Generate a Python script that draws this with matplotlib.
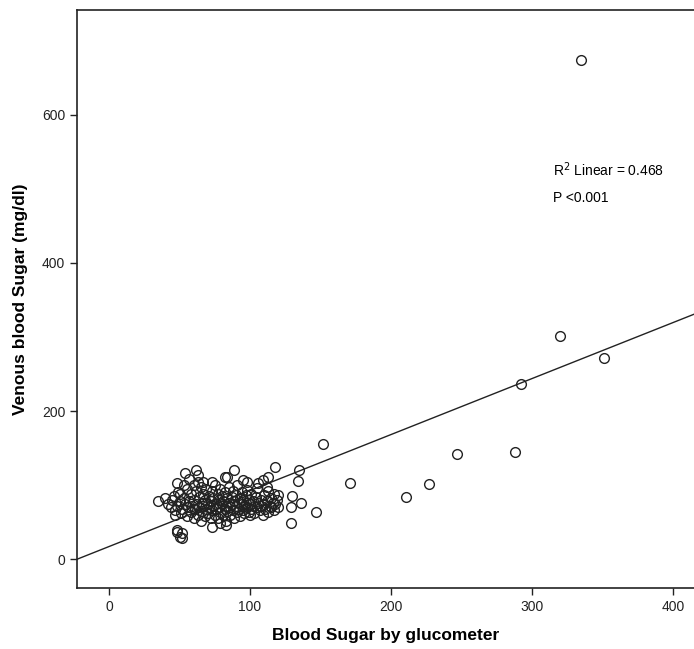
import matplotlib.pyplot as plt

plt.rcParams['font.family'] = ['Liberation Sans', 'DejaVu Sans']

# scattered points
edge_x = [35, 40, 45, 48, 50, 52, 52, 48, 54, 62, 63, 84, 73, 79, 83, 89, 95, 98, 106, 109, 113,
          118, 82, 73, 67, 48, 120, 134, 135, 130, 136, 129, 129, 147, 152, 171, 211, 227, 247,
          288, 292, 320, 351, 335]
edge_y = [78, 82, 80, 39, 30, 28, 35, 103, 116, 120, 113, 111, 43, 49, 46, 120, 107, 104, 103, 107, 111,
          124, 111, 104, 104, 36, 86, 105, 120, 85, 76, 70, 49, 63, 155, 103, 84, 101, 142,
          145, 236, 301, 271, 674]

# dense cluster
core_x = [42, 44, 46, 47, 48, 49, 50, 51, 52, 53, 54, 55, 55, 53, 50, 47,
          56, 57, 58, 58, 59, 60, 60, 61, 62, 62, 63, 64, 64, 65, 65, 66, 66, 67, 67, 68, 68, 69, 69, 70, 70, 60, 57, 63,
          71, 71, 72, 72, 73, 73, 74, 74, 75, 75, 76, 76, 77, 77, 78, 78, 79, 79, 80, 80, 81, 81, 82, 82, 83, 83, 84, 84, 85, 85,
          86, 86, 87, 87, 88, 88, 89, 89, 90, 90, 91, 91, 92, 92, 93, 93, 94, 94, 95, 95, 96, 96, 97, 97, 98, 98, 99, 99, 100, 100,
          101, 101, 102, 103, 103, 104, 105, 105, 106, 107, 108, 108, 109, 110, 110, 111, 112, 113, 113, 114, 115, 115, 116, 117, 118, 119, 120, 117, 112]
core_y = [75, 70, 85, 66, 72, 90, 78, 62, 68, 82, 74, 58, 95, 100, 88, 60,
          70, 78, 64, 88, 72, 55, 80, 68, 92, 75, 60, 84, 70, 98, 52, 76, 65, 88, 72, 58, 80, 95, 68, 74, 62, 100, 108, 104,
          85, 70, 56, 78, 66, 92, 72, 82, 60, 100, 75, 68, 88, 55, 80, 70, 64, 95, 74, 85, 60, 78, 68, 90, 72, 52, 82, 65, 76, 98,
          70, 60, 84, 74, 66, 92, 78, 56, 72, 86, 64, 100, 76, 68, 82, 58, 74, 90, 66, 80, 72, 62, 86, 76, 70, 94, 64, 80, 74, 60,
          88, 68, 78, 72, 62, 84, 70, 96, 76, 66, 80, 72, 60, 86, 74, 68, 78, 92, 64, 72, 82, 70, 76, 66, 74, 80, 70, 88, 98]

glucometer = edge_x + core_x
venous = edge_y + core_y

# fit line
fit_slope = 0.756
fit_intercept = 17.0
r2_text = 'R$^2$ Linear = 0.468'
p_text = 'P <0.001'

fig = plt.figure(figsize=(6.94, 6.49), dpi=100)
ax = fig.add_axes([0.111, 0.094, 0.889, 0.891])

ax.plot(glucometer, venous, linestyle='none', marker='o', markersize=7,
        markerfacecolor='none', markeredgecolor='#222222', markeredgewidth=1.0)

xmin, xmax = -22.7, 415
ax.plot([xmin, xmax], [fit_intercept + fit_slope * xmin, fit_intercept + fit_slope * xmax],
        color='#222222', linewidth=1.0)

ax.set_xlim(xmin, xmax)
ax.set_ylim(-39, 742)
ax.set_xticks([0, 100, 200, 300, 400])
ax.set_yticks([0, 200, 400, 600])
ax.tick_params(direction='out', length=5, width=1, labelsize=10, colors='#222222')
ax.spines['right'].set_visible(False)
for s in ['left', 'bottom', 'top']:
    ax.spines[s].set_linewidth(1.2)
    ax.spines[s].set_color('#222222')

ax.set_xlabel('Blood Sugar by glucometer', fontsize=12.5, fontweight='bold', labelpad=10)
ax.set_ylabel('Venous blood Sugar (mg/dl)', fontsize=12.5, fontweight='bold', labelpad=10)

ax.text(315, 526, r2_text, fontsize=10, va='center', ha='left')
ax.text(315, 488, p_text, fontsize=10, va='center', ha='left')

fig.savefig('out.png', dpi=100)
